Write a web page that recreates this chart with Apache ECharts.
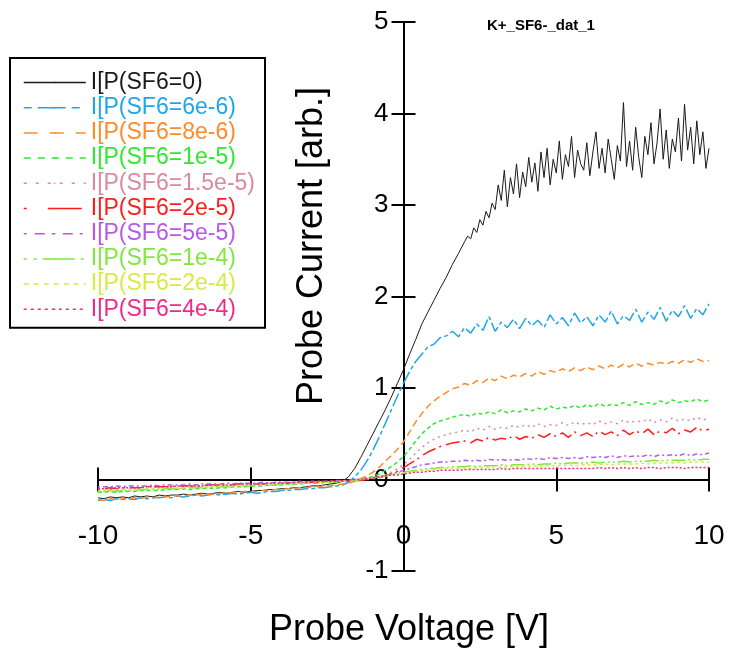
<!DOCTYPE html>
<html>
<head>
<meta charset="utf-8">
<script src="https://cdn.jsdelivr.net/npm/echarts@6/dist/echarts.min.js"></script>
<style>
  html, body { margin: 0; padding: 0; background: #fff; }
  #chart { width: 729px; height: 653px; }
</style>
</head>
<body>
<div id="chart"></div>
<script>
// probe voltage sweep [V]
const voltage = [
  -10, -9.8, -9.6, -9.4, -9.2, -9, -8.8, -8.6, -8.4, -8.2,
  -8, -7.8, -7.6, -7.4, -7.2, -7, -6.8, -6.6, -6.4, -6.2,
  -6, -5.8, -5.6, -5.4, -5.2, -5, -4.8, -4.6, -4.4, -4.2,
  -4, -3.8, -3.6, -3.4, -3.2, -3, -2.8, -2.6, -2.4, -2.2,
  -2, -1.8, -1.6, -1.4, -1.2, -1, -0.8, -0.6, -0.4, -0.2,
  0, 0.2, 0.4, 0.6, 0.8, 1, 1.2, 1.4, 1.6, 1.8,
  2, 2.2, 2.4, 2.6, 2.8, 3, 3.2, 3.4, 3.6, 3.8,
  4, 4.2, 4.4, 4.6, 4.8, 5, 5.2, 5.4, 5.6, 5.8,
  6, 6.2, 6.4, 6.6, 6.8, 7, 7.2, 7.4, 7.6, 7.8,
  8, 8.2, 8.4, 8.6, 8.8, 9, 9.2, 9.4, 9.6, 9.8,
  10
]
// finer sweep used for the noisy saturated part of the SF6=0 trace
const voltageHi = [
  2, 2.1, 2.2, 2.3, 2.4, 2.5, 2.6, 2.7, 2.8, 2.9,
  3, 3.1, 3.2, 3.3, 3.4, 3.5, 3.6, 3.7, 3.8, 3.9,
  4, 4.1, 4.2, 4.3, 4.4, 4.5, 4.6, 4.7, 4.8, 4.9,
  5, 5.1, 5.2, 5.3, 5.4, 5.5, 5.6, 5.7, 5.8, 5.9,
  6, 6.1, 6.2, 6.3, 6.4, 6.5, 6.6, 6.7, 6.8, 6.9,
  7, 7.1, 7.2, 7.3, 7.4, 7.5, 7.6, 7.7, 7.8, 7.9,
  8, 8.1, 8.2, 8.3, 8.4, 8.5, 8.6, 8.7, 8.8, 8.9,
  9, 9.1, 9.2, 9.3, 9.4, 9.5, 9.6, 9.7, 9.8, 9.9,
  10
]

// probe current [arb.] for each SF6 setting
// SF6=0 : first 60 values on voltage (-10 .. 1.8), rest on voltageHi
const iSF6_0 = [
  -0.20, -0.21, -0.19, -0.20, -0.19, -0.20, -0.18, -0.19, -0.18, -0.19,
  -0.17, -0.18, -0.17, -0.17, -0.16, -0.17, -0.16, -0.15, -0.16, -0.15,
  -0.14, -0.15, -0.14, -0.13, -0.14, -0.13, -0.12, -0.12, -0.11, -0.11,
  -0.10, -0.10, -0.09, -0.09, -0.08, -0.07, -0.07, -0.06, -0.05, -0.04,
  -0.02, 0.03, 0.12, 0.24, 0.37, 0.50, 0.63, 0.76, 0.90, 1.05,
  1.20, 1.37, 1.53, 1.70, 1.83, 1.96, 2.09, 2.21, 2.35, 2.47
]
const iSF6_0_hi = [
  2.60, 2.66, 2.63, 2.75, 2.70, 2.84, 2.78, 2.93, 2.86, 3.02,
  2.95, 3.22, 3.05, 3.38, 2.98, 3.30, 3.12, 3.45, 3.08, 3.36,
  3.20, 3.52, 3.25, 3.46, 3.15, 3.58, 3.30, 3.62, 3.22, 3.50,
  3.35, 3.70, 3.28, 3.55, 3.42, 3.75, 3.30, 3.60, 3.45, 3.38,
  3.68, 3.32, 3.58, 3.80, 3.40, 3.62, 3.35, 3.72, 3.50, 3.28,
  3.65, 3.48, 4.12, 3.42, 3.70, 3.38, 3.85, 3.52, 3.30, 3.75,
  3.55, 3.90, 3.45, 3.68, 4.05, 3.50, 3.82, 3.40, 3.72, 3.58,
  3.95, 3.48, 4.10, 3.60, 3.85, 3.45, 3.92, 3.55, 3.80, 3.40,
  3.62
]
const iSF6_6e6 = [
  -0.23, -0.22, -0.23, -0.21, -0.22, -0.21, -0.22, -0.20, -0.21, -0.20,
  -0.20, -0.19, -0.20, -0.18, -0.19, -0.18, -0.17, -0.18, -0.17, -0.16,
  -0.17, -0.16, -0.15, -0.16, -0.15, -0.14, -0.15, -0.14, -0.13, -0.13,
  -0.12, -0.12, -0.11, -0.11, -0.10, -0.10, -0.09, -0.09, -0.08, -0.07,
  -0.06, -0.03, 0.03, 0.10, 0.20, 0.32, 0.46, 0.61, 0.76, 0.91,
  1.05, 1.18, 1.29, 1.37, 1.45, 1.48, 1.55, 1.57, 1.62, 1.56,
  1.66, 1.60, 1.70, 1.63, 1.78, 1.62, 1.72, 1.66, 1.75, 1.65,
  1.76, 1.68, 1.74, 1.66, 1.80, 1.70, 1.77, 1.68, 1.82, 1.71,
  1.78, 1.68, 1.80, 1.72, 1.84, 1.70, 1.79, 1.74, 1.86, 1.72,
  1.83, 1.75, 1.88, 1.73, 1.85, 1.78, 1.90, 1.76, 1.87, 1.80,
  1.92
]
const iSF6_8e6 = [
  -0.22, -0.23, -0.21, -0.22, -0.21, -0.21, -0.20, -0.21, -0.19, -0.20,
  -0.19, -0.19, -0.18, -0.18, -0.18, -0.17, -0.17, -0.16, -0.16, -0.16,
  -0.15, -0.15, -0.14, -0.14, -0.13, -0.13, -0.13, -0.12, -0.12, -0.11,
  -0.11, -0.10, -0.10, -0.09, -0.09, -0.08, -0.08, -0.07, -0.07, -0.06,
  -0.05, -0.04, -0.02, 0.01, 0.04, 0.08, 0.13, 0.20, 0.26, 0.33,
  0.41, 0.52, 0.63, 0.72, 0.80, 0.86, 0.91, 0.95, 0.99, 1.01,
  1.05, 1.03, 1.08, 1.06, 1.11, 1.08, 1.13, 1.10, 1.14, 1.12,
  1.16, 1.13, 1.18, 1.15, 1.19, 1.17, 1.21, 1.18, 1.22, 1.19,
  1.23, 1.20, 1.24, 1.21, 1.25, 1.22, 1.26, 1.23, 1.27, 1.24,
  1.27, 1.25, 1.28, 1.26, 1.29, 1.27, 1.31, 1.28, 1.32, 1.29,
  1.30
]
const iSF6_1e5 = [
  -0.14, -0.14, -0.13, -0.14, -0.13, -0.13, -0.13, -0.12, -0.12, -0.12,
  -0.12, -0.11, -0.11, -0.11, -0.10, -0.11, -0.10, -0.10, -0.09, -0.10,
  -0.09, -0.09, -0.08, -0.08, -0.08, -0.07, -0.07, -0.07, -0.06, -0.06,
  -0.06, -0.05, -0.05, -0.05, -0.04, -0.04, -0.04, -0.03, -0.03, -0.03,
  -0.02, -0.02, -0.01, 0.00, 0.02, 0.03, 0.06, 0.10, 0.14, 0.19,
  0.25, 0.33, 0.42, 0.50, 0.56, 0.61, 0.64, 0.66, 0.68, 0.70,
  0.71, 0.69, 0.73, 0.71, 0.74, 0.72, 0.76, 0.73, 0.75, 0.74,
  0.77, 0.75, 0.78, 0.76, 0.80, 0.77, 0.79, 0.78, 0.81, 0.78,
  0.82, 0.79, 0.83, 0.80, 0.82, 0.81, 0.84, 0.81, 0.85, 0.82,
  0.84, 0.82, 0.86, 0.83, 0.87, 0.84, 0.86, 0.85, 0.88, 0.85,
  0.87
]
const iSF6_1p5e5 = [
  -0.12, -0.12, -0.11, -0.12, -0.11, -0.11, -0.11, -0.10, -0.10, -0.10,
  -0.10, -0.09, -0.09, -0.09, -0.09, -0.08, -0.08, -0.08, -0.08, -0.07,
  -0.07, -0.07, -0.07, -0.06, -0.06, -0.06, -0.06, -0.05, -0.05, -0.05,
  -0.05, -0.04, -0.04, -0.04, -0.04, -0.03, -0.03, -0.03, -0.03, -0.02,
  -0.02, -0.02, -0.01, -0.01, 0.00, 0.01, 0.03, 0.05, 0.08, 0.12,
  0.16, 0.22, 0.29, 0.35, 0.40, 0.44, 0.47, 0.49, 0.51, 0.52,
  0.54, 0.52, 0.56, 0.54, 0.58, 0.55, 0.57, 0.56, 0.59, 0.57,
  0.60, 0.57, 0.61, 0.58, 0.60, 0.59, 0.62, 0.59, 0.63, 0.60,
  0.62, 0.60, 0.64, 0.61, 0.63, 0.61, 0.65, 0.62, 0.64, 0.63,
  0.66, 0.62, 0.65, 0.63, 0.67, 0.64, 0.66, 0.64, 0.68, 0.65,
  0.67
]
const iSF6_2e5 = [
  -0.10, -0.10, -0.09, -0.10, -0.09, -0.09, -0.09, -0.09, -0.08, -0.08,
  -0.08, -0.08, -0.08, -0.07, -0.07, -0.07, -0.07, -0.07, -0.06, -0.06,
  -0.06, -0.06, -0.06, -0.05, -0.05, -0.05, -0.05, -0.05, -0.04, -0.04,
  -0.04, -0.04, -0.04, -0.03, -0.03, -0.03, -0.03, -0.03, -0.02, -0.02,
  -0.02, -0.02, -0.01, -0.01, 0.00, 0.01, 0.02, 0.04, 0.06, 0.09,
  0.13, 0.17, 0.21, 0.26, 0.30, 0.33, 0.36, 0.38, 0.40, 0.41,
  0.42, 0.40, 0.44, 0.42, 0.46, 0.43, 0.45, 0.44, 0.48, 0.44,
  0.47, 0.45, 0.49, 0.46, 0.50, 0.47, 0.51, 0.46, 0.52, 0.48,
  0.51, 0.47, 0.53, 0.49, 0.52, 0.48, 0.54, 0.49, 0.53, 0.50,
  0.55, 0.49, 0.53, 0.51, 0.56, 0.50, 0.54, 0.52, 0.57, 0.53,
  0.55
]
const iSF6_5e5 = [
  -0.08, -0.08, -0.08, -0.07, -0.08, -0.07, -0.07, -0.07, -0.07, -0.06,
  -0.07, -0.06, -0.06, -0.06, -0.06, -0.05, -0.06, -0.05, -0.05, -0.05,
  -0.05, -0.04, -0.05, -0.04, -0.04, -0.04, -0.04, -0.03, -0.04, -0.03,
  -0.03, -0.03, -0.03, -0.02, -0.03, -0.02, -0.02, -0.02, -0.02, -0.01,
  -0.01, -0.01, 0.00, 0.00, 0.01, 0.02, 0.03, 0.04, 0.06, 0.08,
  0.10, 0.12, 0.14, 0.16, 0.17, 0.18, 0.19, 0.19, 0.20, 0.20,
  0.21, 0.20, 0.21, 0.20, 0.22, 0.21, 0.22, 0.21, 0.22, 0.21,
  0.23, 0.22, 0.23, 0.22, 0.24, 0.23, 0.24, 0.23, 0.24, 0.23,
  0.25, 0.24, 0.25, 0.24, 0.26, 0.24, 0.26, 0.25, 0.26, 0.25,
  0.27, 0.25, 0.27, 0.26, 0.27, 0.26, 0.28, 0.26, 0.28, 0.27,
  0.29
]
const iSF6_1e4 = [
  -0.13, -0.13, -0.12, -0.13, -0.12, -0.12, -0.12, -0.11, -0.11, -0.11,
  -0.11, -0.10, -0.10, -0.10, -0.10, -0.09, -0.09, -0.09, -0.09, -0.08,
  -0.08, -0.08, -0.08, -0.07, -0.07, -0.07, -0.06, -0.06, -0.06, -0.06,
  -0.05, -0.05, -0.05, -0.04, -0.04, -0.04, -0.04, -0.03, -0.03, -0.03,
  -0.02, -0.02, -0.01, 0.00, 0.01, 0.02, 0.03, 0.04, 0.05, 0.07,
  0.08, 0.09, 0.10, 0.11, 0.12, 0.12, 0.13, 0.13, 0.14, 0.14,
  0.14, 0.15, 0.14, 0.15, 0.15, 0.15, 0.16, 0.15, 0.16, 0.16,
  0.16, 0.17, 0.16, 0.17, 0.17, 0.18, 0.17, 0.18, 0.18, 0.18,
  0.18, 0.19, 0.18, 0.19, 0.19, 0.19, 0.20, 0.19, 0.20, 0.20,
  0.20, 0.21, 0.20, 0.21, 0.21, 0.21, 0.21, 0.22, 0.21, 0.22,
  0.22
]
const iSF6_2e4 = [
  -0.12, -0.12, -0.12, -0.11, -0.11, -0.11, -0.11, -0.10, -0.10, -0.10,
  -0.10, -0.09, -0.09, -0.09, -0.09, -0.08, -0.08, -0.08, -0.08, -0.07,
  -0.07, -0.07, -0.07, -0.06, -0.06, -0.06, -0.06, -0.05, -0.05, -0.05,
  -0.05, -0.04, -0.04, -0.04, -0.04, -0.03, -0.03, -0.03, -0.03, -0.02,
  -0.02, -0.01, -0.01, 0.00, 0.01, 0.02, 0.03, 0.04, 0.05, 0.06,
  0.07, 0.08, 0.09, 0.10, 0.10, 0.11, 0.11, 0.12, 0.12, 0.12,
  0.13, 0.12, 0.13, 0.13, 0.13, 0.14, 0.13, 0.14, 0.14, 0.14,
  0.14, 0.15, 0.14, 0.15, 0.15, 0.15, 0.15, 0.16, 0.15, 0.16,
  0.16, 0.16, 0.16, 0.17, 0.16, 0.17, 0.17, 0.17, 0.17, 0.18,
  0.17, 0.18, 0.18, 0.18, 0.18, 0.19, 0.18, 0.19, 0.19, 0.19,
  0.19
]
const iSF6_4e4 = [
  -0.10, -0.10, -0.10, -0.09, -0.09, -0.09, -0.09, -0.09, -0.08, -0.08,
  -0.08, -0.08, -0.08, -0.07, -0.07, -0.07, -0.07, -0.07, -0.06, -0.06,
  -0.06, -0.06, -0.06, -0.05, -0.05, -0.05, -0.05, -0.05, -0.04, -0.04,
  -0.04, -0.04, -0.03, -0.03, -0.03, -0.03, -0.02, -0.02, -0.02, -0.02,
  -0.01, -0.01, 0.00, 0.00, 0.01, 0.02, 0.03, 0.04, 0.05, 0.05,
  0.06, 0.07, 0.08, 0.08, 0.09, 0.09, 0.10, 0.10, 0.10, 0.10,
  0.11, 0.11, 0.11, 0.11, 0.11, 0.11, 0.12, 0.11, 0.12, 0.12,
  0.12, 0.12, 0.12, 0.12, 0.12, 0.12, 0.12, 0.12, 0.12, 0.12,
  0.12, 0.12, 0.13, 0.12, 0.13, 0.12, 0.13, 0.12, 0.13, 0.12,
  0.13, 0.13, 0.12, 0.13, 0.13, 0.13, 0.12, 0.13, 0.13, 0.13,
  0.13
]

const seriesNames = [
  'I[P(SF6=0)', 'I[P(SF6=6e-6)', 'I[P(SF6=8e-6)', 'I[P(SF6=1e-5)', 'I[P(SF6=1.5e-5)',
  'I[P(SF6=2e-5)', 'I[P(SF6=5e-5)', 'I[P(SF6=1e-4)', 'I[P(SF6=2e-4)', 'I[P(SF6=4e-4)'
]
const seriesValues = [iSF6_0, iSF6_6e6, iSF6_8e6, iSF6_1e5, iSF6_1p5e5, iSF6_2e5, iSF6_5e5, iSF6_1e4, iSF6_2e4, iSF6_4e4]
const xTicks = [-10, 10, 5]   // min, max, interval
const yTicks = [-1, 5, 1]

// line look of each trace: colour, dash in the legend, tighter dash on the noisy trace
const traceColors = ['#1a1a1a', '#1fa6e6', '#ff8a2a', '#2fe82f', '#d98aa0', '#ff1c1c', '#b45ae6', '#80e83c', '#d6ec46', '#ee2a88']
const legendDash = ['solid', [8, 6, 28, 6], [14, 12], [7, 7], [3, 9], [3, 21, 34, 21], [3, 8, 10, 7], [3, 7, 3, 6, 32, 6], [5, 5], [3, 4]]
const plotDash = ['solid', [4, 3, 14, 3], [7, 4], [4, 3], [2, 4], [2, 5, 14, 4], [2, 3, 5, 3], [2, 3, 2, 3, 14, 3], [3, 3], [2, 2]]

const font = 'Liberation Sans, Arial, sans-serif'

// grid box and where the zero lines fall inside it
const gridBox = { left: 98, right: 20, top: 22, bottom: 82 }
const plotW = 729 - gridBox.left - gridBox.right
const plotH = 653 - gridBox.top - gridBox.bottom
const zeroX = plotW * (0 - xTicks[0]) / (xTicks[1] - xTicks[0])   // from grid left
const zeroY = plotH * (yTicks[1] - 0) / (yTicks[1] - yTicks[0])   // from grid top

const chart = echarts.init(document.getElementById('chart'))

function pairs(xs, ys) {
  return ys.map(function(y, i) { return [xs[i], y] })
}

const series = seriesNames.map(function(name, k) {
  let data = pairs(voltage, seriesValues[k])
  if (k === 0) data = data.concat(pairs(voltageHi, iSF6_0_hi))
  return {
    name: name,
    type: 'line',
    symbol: 'none',
    animation: false,
    lineStyle: { color: traceColors[k], width: k === 0 ? 1 : 1.5, type: plotDash[k] },
    itemStyle: { color: traceColors[k] },
    data: data
  }
})

const axisLineStyle = { color: '#000', width: 2 }

function xAxisOpt(pos, withLabels) {
  return {
    type: 'value',
    min: xTicks[0],
    max: xTicks[1],
    interval: xTicks[2],
    position: pos,
    offset: pos === 'bottom' ? -(plotH - zeroY) : -zeroY,
    axisLine: { onZero: false, lineStyle: axisLineStyle },
    axisTick: { show: true, length: 12, lineStyle: axisLineStyle },
    axisLabel: { show: withLabels, margin: 43, fontFamily: font, fontSize: 28, color: '#000' },
    splitLine: { show: false }
  }
}
function yAxisOpt(pos, withLabels) {
  return {
    type: 'value',
    min: yTicks[0],
    max: yTicks[1],
    interval: yTicks[2],
    position: pos,
    offset: pos === 'left' ? -zeroX : -(plotW - zeroX),
    axisLine: { onZero: false, lineStyle: axisLineStyle },
    axisTick: { show: true, length: 12, lineStyle: axisLineStyle },
    axisLabel: { show: withLabels, margin: 15, fontFamily: font, fontSize: 26, color: '#000' },
    splitLine: { show: false }
  }
}

const option = {
  backgroundColor: '#fff',
  animation: false,
  title: {
    text: 'K+_SF6-_dat_1',
    left: 487,
    top: 18,
    padding: 0,
    textStyle: { fontFamily: font, fontSize: 15, fontWeight: 'bold', color: '#000' }
  },
  grid: { left: gridBox.left, right: gridBox.right, top: gridBox.top, bottom: gridBox.bottom, containLabel: false },
  legend: {
    orient: 'vertical',
    left: 10,
    top: 58,
    padding: [13, 10, 7, 13],
    itemWidth: 62,
    itemHeight: 2,
    itemGap: 2.2,
    borderColor: '#000',
    borderWidth: 2,
    backgroundColor: '#fff',
    selectedMode: false,
    textStyle: { fontFamily: font, fontSize: 23, lineHeight: 23 },
    data: seriesNames.map(function(name, k) {
      return {
        name: name,
        textStyle: { color: traceColors[k] },
        lineStyle: { color: traceColors[k], width: 1.5, type: legendDash[k] }
      }
    })
  },
  xAxis: [xAxisOpt('bottom', true), xAxisOpt('top', false)],
  yAxis: [yAxisOpt('left', true), yAxisOpt('right', false)],
  graphic: [{
    type: 'text',
    x: 409,
    y: 630,
    style: { text: 'Probe Voltage [V]', font: '36px ' + font, fill: '#000', textAlign: 'center', textVerticalAlign: 'middle' }
  }, {
    type: 'text',
    x: 312,
    y: 246,
    rotation: Math.PI / 2,
    style: { text: 'Probe Current [arb.]', font: '36px ' + font, fill: '#000', textAlign: 'center', textVerticalAlign: 'middle' }
  }],
  series: series
}

chart.setOption(option)
</script>
</body>
</html>
